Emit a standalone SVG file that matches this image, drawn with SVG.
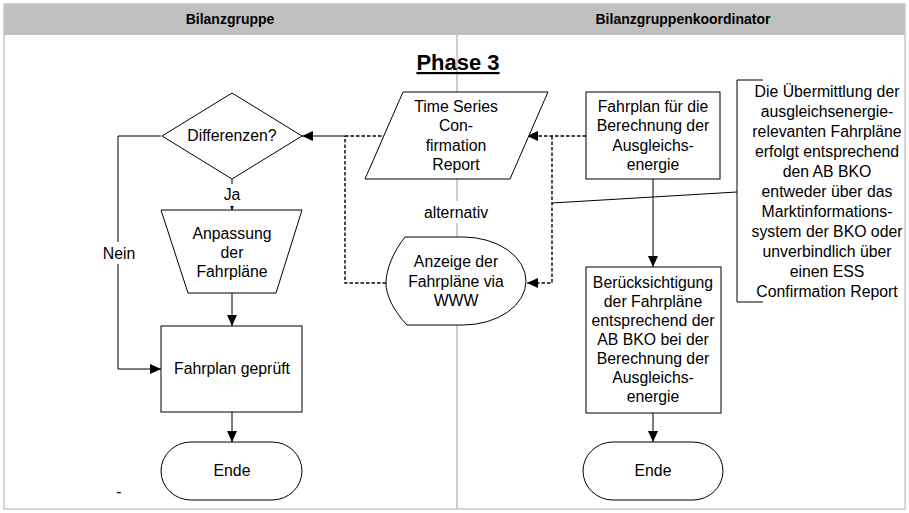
<svg xmlns="http://www.w3.org/2000/svg" width="909" height="513" viewBox="0 0 909 513">
<defs>
<marker id="ah" markerUnits="userSpaceOnUse" markerWidth="12" markerHeight="10" refX="11" refY="5" orient="auto">
<path d="M0,0 L11,5 L0,10 Z" fill="#000"/>
</marker>
<style>
.t{font-family:"Liberation Sans",Arial,sans-serif;font-size:15.8px;fill:#000;text-anchor:middle}
.h{font-family:"Liberation Sans",Arial,sans-serif;font-size:14px;font-weight:bold;fill:#000;text-anchor:middle}
.s{fill:#fff;stroke:#000;stroke-width:1}
.c{fill:none;stroke:#000;stroke-width:1}
.d{fill:none;stroke:#000;stroke-width:1.4;stroke-dasharray:3.5 2}
.bg{fill:#fff}
</style>
</defs>
<rect x="0" y="0" width="909" height="513" fill="#fff"/>
<g id="pool">
<rect x="4" y="4" width="901" height="31" fill="#c0c0c0"/>
<rect x="4" y="4" width="901" height="505" fill="none" stroke="#c8c8c8" stroke-width="1.5"/>
<line x1="457" y1="35" x2="457" y2="509" stroke="#c0c0c0" stroke-width="1.5"/>
<text class="h" x="230" y="24">Bilanzgruppe</text>
<text class="h" x="683" y="24">Bilanzgruppenkoordinator</text>
<text x="458" y="70" font-family="Liberation Sans,Arial,sans-serif" font-size="22" font-weight="bold" text-anchor="middle" text-decoration="underline">Phase 3</text>
</g>
<g id="connectors">
<line class="c" x1="232" y1="179" x2="232" y2="210" marker-end="url(#ah)"/>
<line class="c" x1="232" y1="293" x2="232" y2="326" marker-end="url(#ah)"/>
<line class="c" x1="232" y1="412" x2="232" y2="442" marker-end="url(#ah)"/>
<polyline class="c" points="161,136 118,136 118,369 161,369" marker-end="url(#ah)"/>
<line class="d" x1="387" y1="136" x2="345" y2="136"/>
<polyline class="d" points="386,283 345,283 345,136"/>
<line class="c" x1="345" y1="136" x2="302" y2="136" stroke-width="1.6" marker-end="url(#ah)"/>
<line class="d" x1="586" y1="136" x2="537" y2="136"/>
<line class="c" x1="537" y1="136" x2="527" y2="136" marker-end="url(#ah)"/>
<polyline class="d" points="552,136 552,283 537,283"/>
<line class="c" x1="537" y1="283" x2="527" y2="283" marker-end="url(#ah)"/>
<line class="c" x1="653" y1="179" x2="653" y2="267" marker-end="url(#ah)"/>
<line class="c" x1="653" y1="413" x2="653" y2="442" marker-end="url(#ah)"/>
<line class="c" x1="552" y1="203" x2="737" y2="192"/>
</g>
<g id="label-ja">
<rect class="bg" x="218" y="184" width="28" height="22"/>
<text class="t" x="232" y="200">Ja</text>
</g>
<g id="label-nein">
<rect class="bg" x="100" y="242" width="38" height="22"/>
<text class="t" x="119" y="259">Nein</text>
</g>
<g id="label-alternativ">
<rect class="bg" x="420" y="201" width="72" height="22"/>
<text class="t" x="456" y="218">alternativ</text>
</g>
<g id="differenzen">
<polygon class="s" points="162,136 232,93 302,136 232,179"/>
<text class="t" x="232" y="141">Differenzen?</text>
</g>
<g id="anpassung">
<polygon class="s" points="161,210 302,210 276,293 188,293"/>
<text class="t" x="232" y="239">Anpassung</text>
<text class="t" x="232" y="258">der</text>
<text class="t" x="232" y="277">Fahrpläne</text>
</g>
<g id="fahrplan-geprueft">
<rect class="s" x="161" y="326" width="141" height="86"/>
<text class="t" x="232" y="374">Fahrplan geprüft</text>
</g>
<g id="ende-links">
<rect class="s" x="161" y="442" width="141" height="58" rx="30" ry="29"/>
<text class="t" x="232" y="476">Ende</text>
</g>
<g id="tscr">
<polygon class="s" points="403,92 548,92 510,179 365,179"/>
<text class="t" x="456" y="112">Time Series</text>
<text class="t" x="456" y="131">Con-</text>
<text class="t" x="456" y="151">firmation</text>
<text class="t" x="456" y="170">Report</text>
</g>
<g id="anzeige-www">
<path class="s" d="M405,237 L463,237 A63,44 0 0 1 463,325 L407,325 C393,310 386,295 386,283 C386,270 393,252 405,237 Z"/>
<text class="t" x="456" y="267">Anzeige der</text>
<text class="t" x="456" y="287">Fahrpläne via</text>
<text class="t" x="456" y="306">WWW</text>
</g>
<g id="fahrplan-berechnung">
<rect class="s" x="586" y="92" width="134" height="87"/>
<text class="t" x="653" y="112">Fahrplan für die</text>
<text class="t" x="653" y="131">Berechnung der</text>
<text class="t" x="653" y="151">Ausgleichs-</text>
<text class="t" x="653" y="170">energie</text>
</g>
<g id="beruecksichtigung">
<rect class="s" x="586" y="267" width="135" height="146"/>
<text class="t" x="653" y="288">Berücksichtigung</text>
<text class="t" x="653" y="307">der Fahrpläne</text>
<text class="t" x="653" y="326">entsprechend der</text>
<text class="t" x="653" y="345">AB BKO bei der</text>
<text class="t" x="653" y="364">Berechnung der</text>
<text class="t" x="653" y="383">Ausgleichs-</text>
<text class="t" x="653" y="402">energie</text>
</g>
<g id="ende-rechts">
<rect class="s" x="583" y="442" width="140" height="58" rx="30" ry="29"/>
<text class="t" x="653" y="476">Ende</text>
</g>
<g id="annotation">
<polyline class="c" points="763,80 737,80 737,302 763,302"/>
<text class="t" x="827" y="97">Die Übermittlung der</text>
<text class="t" x="827" y="117">ausgleichsenergie-</text>
<text class="t" x="827" y="137">relevanten Fahrpläne</text>
<text class="t" x="827" y="157">erfolgt entsprechend</text>
<text class="t" x="827" y="177">den AB BKO</text>
<text class="t" x="827" y="197">entweder über das</text>
<text class="t" x="827" y="217">Marktinformations-</text>
<text class="t" x="827" y="237">system der BKO oder</text>
<text class="t" x="827" y="257">unverbindlich über</text>
<text class="t" x="827" y="277">einen ESS</text>
<text class="t" x="827" y="297">Confirmation Report</text>
</g>
<text class="t" x="119" y="497">-</text>
</svg>
